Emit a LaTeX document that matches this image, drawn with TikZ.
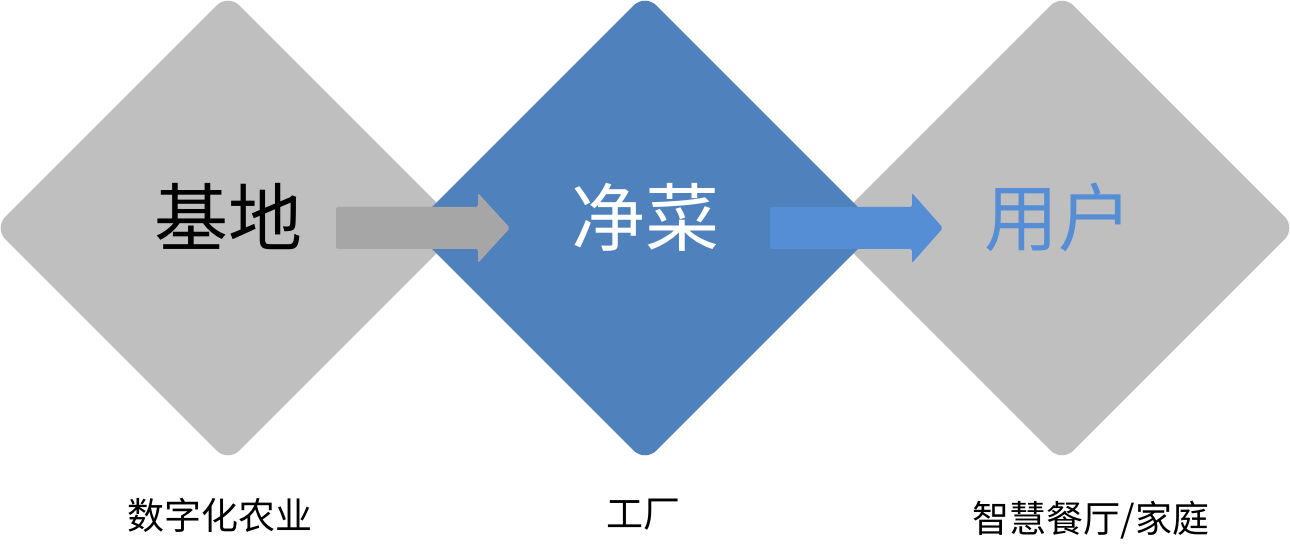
\documentclass[tikz,border=0pt]{standalone}
\usepackage{fontspec}
\newfontfamily\cjk{Noto Sans CJK SC}
\usetikzlibrary{shapes.geometric,positioning}
\definecolor{diagray}{HTML}{BFBFBF}
\definecolor{diablue}{HTML}{4F81BD}
\definecolor{arrgray}{HTML}{A6A6A6}
\definecolor{arrblue}{HTML}{558ED5}

\begin{document}
\begin{tikzpicture}[x=1pt,y=-1pt,
    stage/.style={diamond,minimum width=468pt,minimum height=468pt,inner sep=0pt,rounded corners=16pt},
    big/.style={font=\cjk\fontsize{74}{80}\selectfont,inner sep=0pt},
    small/.style={font=\cjk\fontsize{37}{40}\selectfont,inner sep=0pt},
    flow/.style={rounded corners=2pt}]
            \useasboundingbox (0,0) rectangle (1290,553);

            \node[stage,fill=diagray] (base) at (228,228) {};
            \node[stage,fill=diagray] (user) at (1062,228) {};
            \node[stage,fill=diablue] (veg) at (645,228) {};

            \node[big] (basetext) at (228,217) {基地};
            \node[big,white] (vegtext) at (645,217) {净菜};
            \node[big,arrblue] (usertext) at (1058,217) {用户};

            % block arrows
            \fill[arrgray,flow,shift={(base.center)}] (108,-21) -- (250,-21) -- (250,-35) -- (282,0) -- (250,35) -- (250,21) -- (108,21) -- cycle;
            \fill[arrblue,flow,shift={(veg.center)}] (125,-21) -- (267,-21) -- (267,-35) -- (298,0) -- (267,35) -- (267,21) -- (125,21) -- cycle;

            \node[small] (farm) at (220,515) {数字化农业};
            \node[small] (plant) at (643,515) {工厂};
            \node[small] (home) at (1091,520) {智慧餐厅/家庭};
        \end{tikzpicture}
\end{document}
